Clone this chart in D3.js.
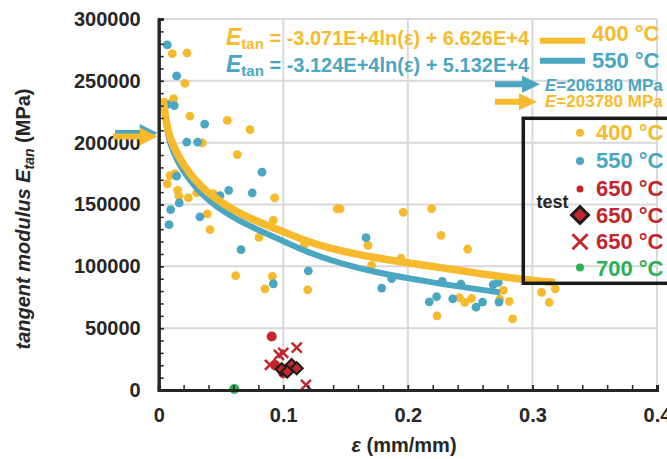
<!DOCTYPE html>
<html>
<head>
<meta charset="utf-8">
<script src="https://cdn.jsdelivr.net/npm/d3@7"></script>
<style>
  body { margin: 0; background: #fff; }
  svg { display: block; font-family: "Liberation Sans", Arial, sans-serif; font-weight: bold; }
</style>
</head>
<body>
<div id="chart"></div>
<script>
// ---- data ----
const eps400 = [0.0109, 0.0227, 0.0211, 0.0120, 0.0107, 0.0251, 0.0551, 0.0733, 0.0350, 0.0631, 0.0091, 0.0069, 0.0131, 0.0152, 0.0163, 0.0238, 0.0305, 0.0438, 0.0931, 0.0390, 0.0412, 0.0805, 0.0920, 0.0618, 0.0912, 0.0853, 0.1433, 0.1455, 0.1963, 0.2191, 0.1680, 0.1169, 0.1709, 0.1196, 0.2266, 0.2480, 0.2413, 0.2458, 0.2512, 0.2766, 0.2739, 0.2814, 0.2841, 0.2234, 0.3074, 0.3135, 0.3183, 0.1945];
const et400 = [272000, 272500, 248000, 235600, 232800, 221500, 218000, 210500, 199900, 190400, 173400, 166700, 175000, 161500, 156700, 155300, 159400, 158800, 155300, 142400, 129700, 123400, 137200, 92400, 91800, 81800, 146400, 146400, 143700, 146700, 117000, 117500, 100700, 81000, 125000, 114000, 74600, 70800, 74000, 80500, 73500, 71600, 57500, 60000, 78900, 70800, 81800, 106700];

const eps550 = [0.0069, 0.0144, 0.0069, 0.0125, 0.0369, 0.0225, 0.0313, 0.0144, 0.0829, 0.0492, 0.0562, 0.0751, 0.0165, 0.0096, 0.0083, 0.0331, 0.0661, 0.0920, 0.1664, 0.1201, 0.1790, 0.1870, 0.2172, 0.2276, 0.2426, 0.2231, 0.2360, 0.2547, 0.2600, 0.2685, 0.2726, 0.2731];
const et550 = [279000, 254000, 231000, 230000, 215000, 200400, 200400, 172900, 176100, 157200, 161500, 159400, 151300, 145900, 133700, 140000, 113500, 85900, 123200, 96400, 82400, 90000, 71300, 87800, 85700, 75400, 73700, 67000, 71100, 85100, 87000, 71100];

const eps650 = [0.0907, 0.0933, 0.1000, 0.1038];
const et650 = [43200, 20300, 13500, 17800];
const eps650test = [0.0987, 0.1067, 0.1108, 0.1032];
const et650test = [16800, 20300, 17600, 14800];
const eps650x = [0.1108, 0.0965, 0.0893, 0.1182, 0.1000];
const et650x = [34300, 28400, 20300, 4100, 30000];
const eps700 = [0.0607];
const et700 = [800];

// fitted curves as drawn in the picture
const fitEps400 = [0.0035, 0.0060, 0.0091, 0.0157, 0.0225, 0.0331, 0.0465, 0.0626, 0.0787, 0.0974, 0.1201, 0.1469, 0.1736, 0.2003, 0.2218, 0.2405, 0.2673, 0.2940, 0.3181];
const fitEt400 = [236000, 216000, 203000, 189100, 178200, 165000, 154000, 144000, 136400, 129200, 119500, 112100, 107000, 102700, 99600, 96900, 92600, 89300, 87000];
const fitEps550 = [0.0040, 0.0060, 0.0091, 0.0155, 0.0225, 0.0331, 0.0465, 0.0626, 0.0787, 0.0974, 0.1201, 0.1469, 0.1736, 0.2003, 0.2218, 0.2405, 0.2673, 0.2739];
const fitEt550 = [234000, 213000, 198500, 184000, 172900, 159400, 147800, 137800, 129900, 121600, 111000, 102000, 95300, 90300, 86700, 83700, 79900, 78900];

const elasticE = [206180, 203780];
const xTicks = [0, 0.1, 0.2, 0.3, 0.4];
const yTicks = [0, 50000, 100000, 150000, 200000, 250000, 300000];
const legendLabels = ["400 °C", "550 °C", "650 °C", "650 °C", "650 °C", "700 °C"];

document.addEventListener("DOMContentLoaded", function () {
    const W = 667, H = 459;
    const margin = { top: 19, left: 158.7 },
        width = 657 - 158.7,
        height = 390 - 19;

    const C = {
        orange: "#F6BA2C",
        blue: "#4BA6C1",
        red: "#C1272D",
        green: "#2DB057",
        dark: "#262626",
        grid: "#d9d9d9"
    };

    const svg = d3.select("#chart").append("svg")
        .attr("width", W)
        .attr("height", H);

    const chart = svg.append("g")
        .attr("transform", `translate(${margin.left},${margin.top})`);

    const x = d3.scaleLinear().domain([0, 0.4]).range([0, width]);
    const y = d3.scaleLinear().domain([0, 300000]).range([height, 0]);

    // gridlines
    chart.selectAll(".hgrid")
        .data(yTicks.slice(1))
        .enter().append("line")
        .attr("x1", 0).attr("x2", width)
        .attr("y1", d => y(d)).attr("y2", d => y(d))
        .attr("stroke", C.grid).attr("stroke-width", 2);
    chart.selectAll(".vgrid")
        .data(xTicks.slice(1))
        .enter().append("line")
        .attr("y1", 0).attr("y2", height)
        .attr("x1", d => x(d)).attr("x2", d => x(d))
        .attr("stroke", C.grid).attr("stroke-width", 2);

    const zip = (a, b) => a.map((v, i) => [v, b[i]]);

    // scatter points
    const dot = (xs, ys, color, r) => {
        chart.append("g").selectAll("circle")
            .data(zip(xs, ys))
            .enter().append("circle")
            .attr("cx", d => x(d[0]))
            .attr("cy", d => y(d[1]))
            .attr("r", r)
            .attr("fill", color);
    };
    dot(eps400, et400, C.orange, 4.4);
    dot(eps550, et550, C.blue, 4.4);

    // fitted curves
    const line = d3.line()
        .x(d => x(d[0]))
        .y(d => y(d[1]))
        .curve(d3.curveBasis);
    chart.append("path")
        .datum(zip(fitEps550, fitEt550))
        .attr("d", line)
        .attr("fill", "none")
        .attr("stroke", C.blue)
        .attr("stroke-width", 6);
    chart.append("path")
        .datum(zip(fitEps400, fitEt400))
        .attr("d", line)
        .attr("fill", "none")
        .attr("stroke", C.orange)
        .attr("stroke-width", 7.5);

    // 650 / 700 points
    dot(eps650, et650, C.red, 5);
    chart.append("g").selectAll("path")
        .data(zip(eps650x, et650x))
        .enter().append("path")
        .attr("d", "M-5,-5L5,5M-5,5L5,-5")
        .attr("transform", d => `translate(${x(d[0])},${y(d[1])})`)
        .attr("stroke", C.red)
        .attr("stroke-width", 2.5);
    chart.append("g").selectAll("path")
        .data(zip(eps650test, et650test))
        .enter().append("path")
        .attr("d", "M0,-6L6,0L0,6L-6,0Z")
        .attr("transform", d => `translate(${x(d[0])},${y(d[1])})`)
        .attr("fill", C.red)
        .attr("stroke", "#1a1a1a")
        .attr("stroke-width", 2);
    dot(eps700, et700, C.green, 5);

    // axes
    const yAxisMinor = d3.axisLeft(y).tickValues(d3.range(0, 300001, 10000))
        .tickSize(-5).tickFormat("");
    const xAxisMinor = d3.axisBottom(x).tickValues(d3.range(0, 0.4001, 0.02))
        .tickSize(-5).tickFormat("");
    chart.append("g").call(yAxisMinor);
    chart.append("g").attr("transform", `translate(0,${height})`).call(xAxisMinor);

    const yAxis = chart.append("g")
        .call(d3.axisLeft(y).tickValues(yTicks).tickSizeInner(-5).tickSizeOuter(0)
            .tickPadding(18).tickFormat(d3.format("d")));
    const xAxis = chart.append("g")
        .attr("transform", `translate(0,${height})`)
        .call(d3.axisBottom(x).tickValues(xTicks).tickSizeInner(-5).tickSizeOuter(0)
            .tickPadding(18).tickFormat(d => d === 0 ? "0" : d3.format(".1f")(d)));

    chart.selectAll(".tick line").attr("stroke", C.dark).attr("stroke-width", 1.5);
    chart.selectAll(".domain").attr("stroke", C.dark).attr("stroke-width", 3);
    [yAxis, xAxis].forEach(a => a.selectAll("text")
        .attr("fill", C.dark)
        .style("font-size", "20px")
        .style("font-weight", "bold")
        .style("font-family", "'Liberation Sans', Arial, sans-serif"));

    // axis titles
    const yTitle = svg.append("text")
        .attr("transform", "translate(30,219) rotate(-90)")
        .attr("text-anchor", "middle")
        .attr("fill", C.dark)
        .style("font-size", "20px");
    yTitle.append("tspan").style("font-style", "italic").text("tangent modulus ");
    yTitle.append("tspan").style("font-style", "italic").text("E");
    yTitle.append("tspan").style("font-style", "italic").style("font-size", "14px").attr("dy", 4).text("tan");
    yTitle.append("tspan").attr("dy", -4).text(" (MPa)");

    const xTitle = svg.append("text")
        .attr("x", 404).attr("y", 452)
        .attr("text-anchor", "middle")
        .attr("fill", C.dark)
        .style("font-size", "20px");
    xTitle.append("tspan").style("font-style", "italic").text("ε");
    xTitle.append("tspan").text(" (mm/mm)");

    // fit equations
    const eqs = [
        { color: C.orange, text: " = -3.071E+4ln(ε) + 6.626E+4", y: 45 },
        { color: C.blue, text: " = -3.124E+4ln(ε) + 5.132E+4", y: 71.5 }
    ];
    eqs.forEach(e => {
        const t = svg.append("text").attr("x", 226).attr("y", e.y).attr("fill", e.color);
        t.append("tspan").style("font-style", "italic").style("font-size", "23px").text("E");
        t.append("tspan").style("font-size", "15px").attr("dy", 4).text("tan");
        t.append("tspan").style("font-size", "20px").attr("dy", -4).text(e.text);
    });

    // line legend (top right)
    [{ c: C.orange, ly: 40.7, ty: 41, lab: legendLabels[0] },
     { c: C.blue, ly: 60.7, ty: 68.3, lab: legendLabels[1] }].forEach(l => {
        svg.append("line")
            .attr("x1", 540).attr("x2", 585)
            .attr("y1", l.ly).attr("y2", l.ly)
            .attr("stroke", l.c).attr("stroke-width", 6);
        svg.append("text")
            .attr("x", 592).attr("y", l.ty)
            .attr("fill", l.c)
            .style("font-size", "22px")
            .text(l.lab);
    });

    // arrows
    const arrow = (x0, x1, yc, color, t, hl, hh) =>
        svg.append("path")
            .attr("d", `M${x0},${yc - t / 2}L${x1 - hl},${yc - t / 2}L${x1 - hl},${yc - hh}L${x1},${yc}` +
                `L${x1 - hl},${yc + hh}L${x1 - hl},${yc + t / 2}L${x0},${yc + t / 2}Z`)
            .attr("fill", color);

    // arrows pointing at the elastic modulus on the y axis
    arrow(115, margin.left - 1, margin.top + y(elasticE[0]) - 2, C.blue, 6, 18, 9);
    arrow(113, margin.left - 1, margin.top + y(elasticE[1]) - 1.5, C.orange, 6, 18, 9);

    // arrows next to the E labels
    [{ c: C.blue, yc: 84.3, tip: 540, ty: 90.5, v: elasticE[0] },
     { c: C.orange, yc: 101.7, tip: 537, ty: 107, v: elasticE[1] }].forEach(a => {
        arrow(495, a.tip, a.yc, a.c, 6, 18, 8.5);
        const t = svg.append("text").attr("x", 545).attr("y", a.ty)
            .attr("fill", a.c).style("font-size", "17px");
        t.append("tspan").style("font-style", "italic").text("E");
        t.append("tspan").text(`=${a.v} MPa`);
    });

    // marker legend box
    svg.append("rect")
        .attr("x", 523.3).attr("y", 118.3)
        .attr("width", 200).attr("height", 165)
        .attr("fill", "none")
        .attr("stroke", "#1a1a1a")
        .attr("stroke-width", 3.5);

    const rows = [
        { type: "dot", c: C.orange, r: 4 },
        { type: "dot", c: C.blue, r: 4 },
        { type: "dot", c: C.red, r: 3.5 },
        { type: "diamond", c: C.red },
        { type: "cross", c: C.red },
        { type: "dot", c: C.green, r: 4 }
    ];
    const rowY = [132.7, 161, 189, 215, 241.7, 267.5];
    const textY = [140, 168.3, 196, 222.7, 249.3, 275.7];
    rows.forEach((r, i) => {
        const g = svg.append("g").attr("transform", `translate(580,${rowY[i]})`);
        if (r.type === "dot") {
            g.append("circle").attr("r", r.r).attr("fill", r.c);
        } else if (r.type === "diamond") {
            g.append("path").attr("d", "M0,-8.5L8.5,0L0,8.5L-8.5,0Z")
                .attr("fill", r.c).attr("stroke", "#1a1a1a").attr("stroke-width", 3);
        } else {
            g.append("path").attr("d", "M-7.5,-7.5L7.5,7.5M-7.5,7.5L7.5,-7.5")
                .attr("stroke", r.c).attr("stroke-width", 3);
        }
        svg.append("text")
            .attr("x", 596).attr("y", textY[i])
            .attr("fill", r.c)
            .style("font-size", "22px")
            .text(legendLabels[i]);
    });
    svg.append("text")
        .attr("x", 536.5).attr("y", 208)
        .attr("fill", C.dark)
        .style("font-size", "18px")
        .text("test");
});
</script>
</body>
</html>
